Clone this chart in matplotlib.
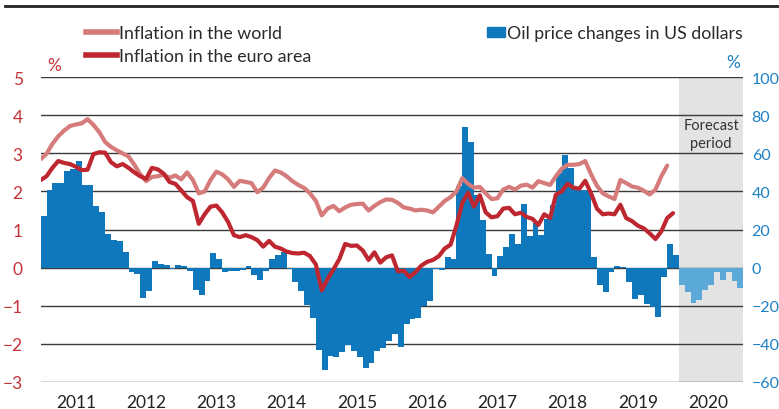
import matplotlib
matplotlib.use("Agg")
import matplotlib.pyplot as plt
from matplotlib.lines import Line2D
from matplotlib.patches import Patch
import numpy as np

plt.rcParams['font.family'] = ['Lato', 'DejaVu Sans']

years = ['2011', '2012', '2013', '2014', '2015', '2016', '2017', '2018', '2019', '2020']

world = [2.85, 2.99, 3.25, 3.45, 3.6, 3.72, 3.76, 3.79, 3.9, 3.75,
         3.56, 3.3, 3.17, 3.08, 3.0, 2.92, 2.7, 2.45, 2.27, 2.38,
         2.40, 2.44, 2.36, 2.42, 2.32, 2.50, 2.30, 1.95, 2.0, 2.3,
         2.52, 2.45, 2.32, 2.12, 2.28, 2.25, 2.22, 1.98, 2.1, 2.35,
         2.55, 2.5, 2.4, 2.27, 2.17, 2.09, 1.95, 1.75, 1.37, 1.55,
         1.62, 1.48, 1.58, 1.65, 1.67, 1.68, 1.5, 1.62, 1.72, 1.79,
         1.78, 1.7, 1.58, 1.55, 1.5, 1.52, 1.5, 1.45, 1.6, 1.75,
         1.85, 2.0, 2.35, 2.2, 2.1, 2.12, 1.95, 1.8, 1.82, 2.05,
         2.12, 2.05, 2.15, 2.18, 2.1, 2.27, 2.22, 2.17, 2.4, 2.6,
         2.7, 2.7, 2.72, 2.8, 2.45, 2.15, 1.95, 1.87, 1.8, 2.3,
         2.22, 2.13, 2.1, 2.02, 1.92, 2.05, 2.4, 2.68]

euro = [2.3, 2.4, 2.62, 2.8, 2.75, 2.72, 2.65, 2.56, 2.57, 2.98,
        3.03, 3.02, 2.77, 2.66, 2.72, 2.62, 2.5, 2.4, 2.33, 2.62,
        2.58, 2.47, 2.25, 2.2, 2.03, 1.85, 1.75, 1.15, 1.4, 1.6,
        1.63, 1.45, 1.2, 0.85, 0.8, 0.85, 0.8, 0.72, 0.55, 0.7,
        0.55, 0.5, 0.42, 0.38, 0.37, 0.39, 0.3, 0.08, -0.6, -0.3,
        -0.05, 0.22, 0.62, 0.57, 0.58, 0.45, 0.2, 0.4, 0.13, 0.27,
        0.32, -0.1, -0.08, -0.25, -0.12, 0.05, 0.15, 0.2, 0.3, 0.5,
        0.6, 1.1, 1.7, 1.97, 1.6, 1.9, 1.45, 1.32, 1.35, 1.55,
        1.57, 1.4, 1.44, 1.33, 1.28, 1.12, 1.4, 1.3, 1.92, 2.0,
        2.2, 2.1, 2.07, 2.28, 1.95, 1.55, 1.4, 1.42, 1.4, 1.65,
        1.3, 1.22, 1.1, 1.03, 0.9, 0.75, 0.95, 1.3, 1.43]

oil = [27, 41, 44.6, 44.6, 51, 52, 56, 43.6, 43.6, 32.5, 29.2, 17.8,
       14.7, 14.2, 8.2, -2.3, -3.3, -15.9, -12.4, 3.3, 2, 1.4, -0.9, 1.4,
       1, -1.7, -11.9, -14.5, -7.2, 7.9, 4.7, -2.5, -1.7, -2, -1.4, 0.9,
       -4, -6.7, -1.7, 4.7, 6.8, 8.2, -0.5, -7.5, -12.2, -19.8, -26.4, -43.2,
       -54, -46.4, -47.2, -44.3, -40.8, -43.9, -46.9, -53, -50.4, -43.9, -42.5, -38.5,
       -34.7, -41.7, -29.8, -27.3, -26.4, -20.3, -17.5, -1, -1.4, 5.3, 4.4, 42.7,
       73.9, 66, 38, 24.8, 7.3, -4.4, 6, 10.9, 17.5, 12.2, 33.6, 16.5,
       23.6, 17, 25.7, 33, 49.9, 59.3, 52.3, 41.5, 40.6, 40.6, 5.3, -9.3,
       -12.8, -2.3, 0.7, 0.2, -7.5, -16.6, -14.5, -18.9, -20.6, -25.9, -4.9, 12.6, 6.5]

oil_forecast = [-9.3, -12.8, -18.4, -17.2, -11.9, -9.3, -2.3, -6.7, -2.3, -7.2, -10.7]

C_WORLD = '#d67b7b'
C_EURO = '#be2630'
C_OIL = '#0f78bd'
C_OIL_F = '#5ba9d6'
C_LEFT = '#c4333a'
C_RIGHT = '#1c80c4'
C_GRID = '#3a3a3a'

W, H = 779, 410
fig = plt.figure(figsize=(W / 100, H / 100), dpi=100)
x0, x1, yb, yt = 40.7, 743.3, 382.7, 78.3
ax = fig.add_axes([x0 / W, (H - yb) / H, (x1 - x0) / W, (yb - yt) / H])
ax2 = ax.twinx()

n_hist = len(oil)
n_fc = len(oil_forecast)
xm = np.arange(n_hist)
xf = np.arange(n_hist, n_hist + n_fc)

# forecast shading
ax.axvspan(n_hist, n_hist + n_fc, color='#e3e3e3', zorder=0, lw=0)

# gridlines
for v in range(-60, 101, 20):
    ax.axhline(v, color=C_GRID, lw=1.0, zorder=1)

ax.bar(xm, oil, width=1.0, align='edge', color=C_OIL, lw=0, zorder=2)
ax.bar(xf, oil_forecast, width=1.0, align='edge', color=C_OIL_F, lw=0, zorder=2)
ax.set_ylim(-60, 100)
ax.set_xlim(0, 120)

ax2.plot(np.arange(len(world)), world, color=C_WORLD, lw=3.0, solid_capstyle='round', solid_joinstyle='round', zorder=3)
ax2.plot(np.arange(len(euro)), euro, color=C_EURO, lw=3.0, solid_capstyle='round', solid_joinstyle='round', zorder=4)
ax2.set_ylim(-3, 5)

for a in (ax, ax2):
    for s in a.spines.values():
        s.set_visible(False)

# right axis (oil) ticks
ax.yaxis.tick_right()
ax.set_yticks(range(-60, 101, 20))
ax.set_yticklabels([str(v).replace('-', '\u2212') for v in range(-60, 101, 20)])
ax.tick_params(axis='y', length=0, pad=6, labelsize=11.5, labelcolor=C_RIGHT)

# left axis (inflation) ticks
ax2.yaxis.tick_left()
ax2.set_yticks(range(-3, 6))
ax2.set_yticklabels([str(v).replace('-', '\u2212') for v in range(-3, 6)])
ax2.tick_params(axis='y', length=0, pad=13, labelsize=12.5, labelcolor=C_LEFT)

# x axis
ax.set_xticks(np.arange(0, 121, 12))
ax.set_xticklabels([])
ax.set_xticks(np.arange(6, 120, 12), minor=True)
ax.set_xticklabels(years, minor=True)
ax.tick_params(axis='x', which='major', length=5, width=1, color=C_GRID, direction='out')
ax.tick_params(axis='x', which='minor', length=0, pad=9, labelsize=12.5, labelcolor='#222222')
ax2.set_xticks([])

# percent markers
fig.text(54 / W, 1 - 66 / H, '%', color=C_LEFT, fontsize=12.5, ha='center', va='center')
fig.text(733 / W, 1 - 63 / H, '%', color=C_RIGHT, fontsize=12.5, ha='center', va='center')

# forecast label
ax.text(n_hist + n_fc / 2, 70, 'Forecast\nperiod', ha='center', va='center', fontsize=10.5,
        color='#333333', linespacing=1.35, zorder=5)

# top rule
fig.add_artist(Line2D([5 / W, 1.0], [1 - 7 / H, 1 - 7 / H], color='#222222', lw=2.0))

# legends
h_lines = [Line2D([], [], color=C_WORLD, lw=4.0), Line2D([], [], color=C_EURO, lw=4.0)]
leg1 = fig.legend(h_lines, ['Inflation in the world', 'Inflation in the euro area'],
                  loc='upper left', bbox_to_anchor=(86 / W, 1 - 26 / H), frameon=False,
                  fontsize=12.8, handlelength=1.75, handletextpad=0.1, labelspacing=0.38,
                  borderpad=0, borderaxespad=0, labelcolor='#2a2a2a')
h_bar = [Patch(color=C_OIL)]
leg2 = fig.legend(h_bar, ['Oil price changes in US dollars'],
                  loc='upper left', bbox_to_anchor=(487 / W, 1 - 26 / H), frameon=False,
                  fontsize=12.8, handlelength=1.0, handleheight=0.5, handletextpad=0.15,
                  borderpad=0, borderaxespad=0, labelcolor='#2a2a2a')

fig.savefig('out.png', dpi=100)
